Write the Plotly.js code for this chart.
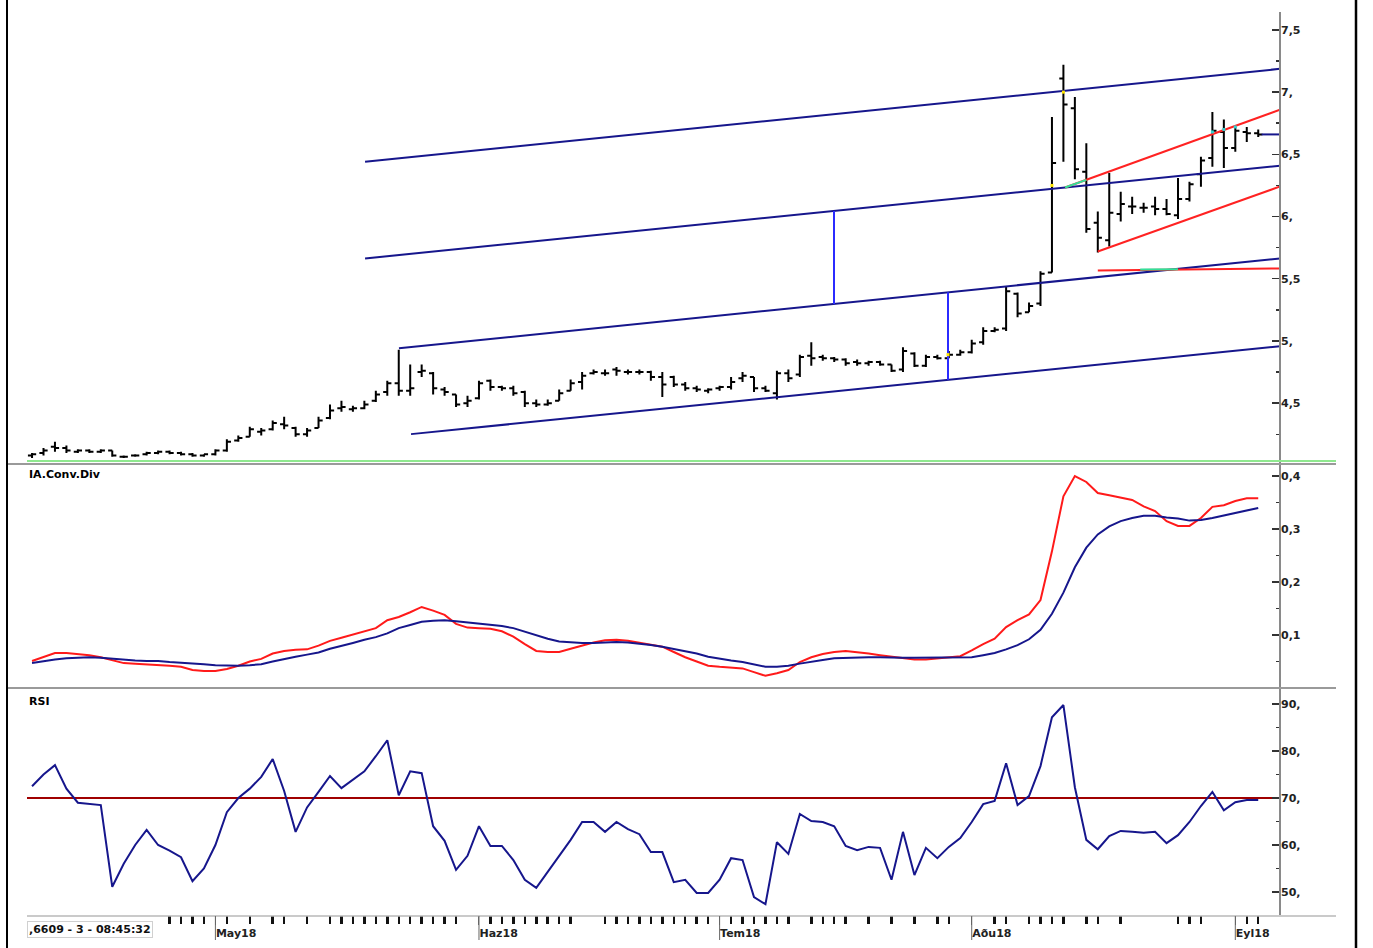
<!DOCTYPE html>
<html>
<head>
<meta charset="utf-8">
<script src="https://cdn.plot.ly/plotly-3.0.1.min.js"></script>
<style>
html,body{margin:0;padding:0;background:#fff;}
#chart{width:1373px;height:948px;}
</style>
</head>
<body>
<div id="chart"></div>
<script>
// ---- Price bars (one per trading day) ----
const open  = [4.08,4.10,4.15,4.14,4.11,4.12,4.11,4.12,4.07,4.08,4.09,4.10,4.11,4.10,4.09,4.08,4.09,
  4.12,4.20,4.23,4.27,4.29,4.33,4.30,4.25,4.30,4.38,4.46,4.45,4.46,4.52,4.59,4.66,4.60,4.75,4.74,4.61,4.57,4.50,
  4.54,4.68,4.63,4.62,4.59,4.50,4.49,4.52,4.60,4.67,4.74,4.74,4.77,4.75,4.75,4.75,4.71,4.71,4.65,4.62,4.60,
  4.62,4.63,4.70,4.71,4.62,4.58,4.74,4.73,4.88,4.87,4.86,4.85,4.83,4.82,4.83,4.81,4.77,4.90,4.80,4.87,4.86,4.89,
  4.91,4.99,5.08,5.10,5.38,5.23,5.30,5.55,7.11,6.87,6.36,5.95,5.81,6.02,6.08,6.07,6.08,6.06,6.01,6.14,6.34,6.47,6.68,
  6.55,6.68,6.67];
const high  = [4.10,4.14,4.19,4.16,4.13,4.13,4.13,4.12,4.08,4.09,4.11,4.12,4.12,4.11,4.10,4.09,4.13,
  4.21,4.24,4.31,4.30,4.36,4.39,4.31,4.30,4.39,4.49,4.52,4.48,4.52,4.60,4.68,4.93,4.81,4.81,4.75,4.63,4.57,4.56,
  4.68,4.69,4.64,4.64,4.60,4.53,4.53,4.61,4.69,4.75,4.77,4.77,4.79,4.77,4.77,4.76,4.75,4.72,4.67,4.64,4.62,
  4.64,4.71,4.75,4.71,4.64,4.76,4.77,4.89,4.99,4.89,4.87,4.86,4.85,4.84,4.84,4.81,4.95,4.91,4.89,4.89,4.92,4.93,
  5.01,5.11,5.11,5.44,5.39,5.31,5.56,6.80,7.22,6.96,6.59,6.04,6.35,6.20,6.16,6.11,6.16,6.14,6.31,6.28,6.48,6.84,6.78,
  6.72,6.72,6.70];
const low   = [4.06,4.08,4.11,4.10,4.10,4.10,4.10,4.07,4.06,4.07,4.08,4.09,4.09,4.08,4.07,4.07,4.08,
  4.11,4.19,4.23,4.24,4.28,4.29,4.23,4.23,4.30,4.37,4.43,4.43,4.45,4.51,4.56,4.56,4.56,4.71,4.57,4.56,4.47,4.47,
  4.53,4.60,4.60,4.56,4.47,4.47,4.48,4.52,4.60,4.61,4.73,4.72,4.72,4.73,4.73,4.68,4.55,4.63,4.60,4.59,4.58,
  4.60,4.61,4.67,4.59,4.59,4.53,4.67,4.71,4.80,4.84,4.83,4.80,4.80,4.80,4.80,4.75,4.75,4.79,4.79,4.85,4.86,4.88,
  4.90,4.97,5.07,5.08,5.19,5.23,5.28,5.55,6.44,6.30,5.87,5.71,5.76,5.96,6.02,6.03,6.01,6.01,5.98,6.12,6.24,6.40,6.39,
  6.52,6.60,6.64];
const close = [4.09,4.12,4.14,4.12,4.12,4.11,4.12,4.08,4.07,4.08,4.10,4.11,4.10,4.09,4.08,4.09,4.12,
  4.19,4.22,4.29,4.28,4.34,4.32,4.25,4.28,4.36,4.44,4.47,4.46,4.49,4.57,4.66,4.60,4.62,4.76,4.62,4.59,4.49,4.52,
  4.66,4.63,4.62,4.58,4.50,4.49,4.50,4.58,4.66,4.72,4.75,4.74,4.76,4.75,4.75,4.71,4.65,4.65,4.62,4.61,4.61,
  4.63,4.67,4.72,4.62,4.60,4.74,4.70,4.87,4.86,4.86,4.85,4.82,4.82,4.83,4.81,4.76,4.92,4.80,4.87,4.86,4.89,4.91,
  4.98,5.08,5.09,5.40,5.22,5.28,5.54,6.43,6.90,6.38,5.90,5.83,6.03,6.10,6.08,6.07,6.06,6.02,6.14,6.26,6.45,6.69,6.55,
  6.69,6.67,6.66];

// ---- MACD panel ----
const macd = [0.051,0.058,0.066,0.066,0.064,0.062,0.058,0.053,0.047,0.046,0.045,0.044,0.042,0.040,0.034,0.032,0.032,
  0.036,0.042,0.050,0.055,0.065,0.070,0.072,0.073,0.080,0.089,0.095,0.101,0.106,0.113,0.128,0.134,0.143,0.153,0.146,0.138,0.121,0.114,
  0.113,0.112,0.107,0.097,0.083,0.070,0.068,0.068,0.074,0.080,0.086,0.090,0.091,0.089,0.085,0.082,0.078,0.068,0.058,0.050,0.042,
  0.040,0.039,0.037,0.030,0.023,0.028,0.034,0.049,0.058,0.064,0.068,0.070,0.068,0.065,0.062,0.059,0.057,0.054,0.054,0.056,0.058,0.060,
  0.071,0.083,0.093,0.115,0.128,0.139,0.166,0.258,0.362,0.400,0.389,0.368,0.364,0.360,0.355,0.343,0.334,0.315,0.306,0.306,0.321,0.342,0.345,
  0.353,0.358,0.358];
const signal = [0.047,0.051,0.054,0.056,0.057,0.058,0.057,0.055,0.053,0.052,0.051,0.051,0.049,0.048,0.047,0.045,0.043,
  0.042,0.042,0.043,0.045,0.050,0.055,0.059,0.063,0.067,0.074,0.079,0.085,0.091,0.096,0.103,0.113,0.119,0.125,0.127,0.128,0.126,0.124,
  0.122,0.119,0.117,0.113,0.106,0.099,0.093,0.088,0.086,0.085,0.085,0.086,0.087,0.086,0.084,0.081,0.078,0.074,0.070,0.065,0.059,
  0.055,0.052,0.049,0.045,0.040,0.040,0.042,0.046,0.050,0.053,0.056,0.057,0.058,0.058,0.058,0.057,0.057,0.057,0.057,0.057,0.057,0.058,
  0.058,0.062,0.066,0.073,0.081,0.092,0.110,0.140,0.180,0.228,0.265,0.290,0.305,0.315,0.321,0.325,0.325,0.322,0.320,0.316,0.317,0.321,0.326,
  0.330,0.336,0.340];

// ---- RSI panel ----
const rsi = [72.5,75.0,77.0,72.0,69.0,68.7,68.5,51.1,56.0,60.0,63.2,60.0,58.8,57.4,52.3,55.0,60.0,
  67.0,70.0,72.0,74.5,78.3,71.5,62.8,68.0,71.3,74.7,72.1,74.0,75.7,78.9,82.3,70.6,75.7,75.3,64.0,60.9,54.7,57.7,
  64.0,59.8,59.8,56.8,52.6,50.9,54.3,57.9,61.1,64.9,64.9,62.8,64.9,63.4,62.3,58.5,58.5,52.1,52.6,49.8,49.8,
  52.6,57.2,56.8,48.9,47.4,60.6,58.1,66.6,65.1,64.9,64.0,59.8,58.9,59.6,59.4,52.6,62.8,53.6,59.4,57.2,59.6,61.5,
  64.9,68.7,69.4,77.4,68.5,70.4,76.8,87.2,89.8,72.3,61.1,59.1,61.9,63.0,62.8,62.6,62.8,60.4,62.1,64.9,68.3,71.3,67.4,
  69.1,69.6,69.6];
const rsiLevel = 70;

// ---- Drawn trend lines [x0, y0, x1, y1] in bar index / price ----
const channelLines = [[29.06,6.441,108.9,7.187],[29.06,5.663,108.9,6.409],[32.02,4.941,108.9,5.663],[33.07,4.251,108.9,4.957]];
const verticalLines = [[69.98,6.045,5.297],[79.93,5.391,4.687]];
const redLines = [[90.14,6.233,108.9,6.858],[93.0,5.719,108.9,6.241],[93.0,5.567,108.9,5.583]];
const greenSegs = [[90.14,6.233,92.0,6.295],[96.7,5.574,100.0,5.577]];
const markerDotsX = [79.93, 89.0, 90.0, 103.0, 104.0, 105.0];
const markerDotsY = [4.89, 6.25, 7.0, 6.68, 6.70, 6.72];
const markerDotsColor = ['#ffe600','#ffe600','#ffe600','#33d0d0','#33d0d0','#33d0d0'];

// ---- Axis labels ----
const monthTickIdx = [16,39,60,82,105];
const monthLabels = ['May18','Haz18','Tem18','Aðu18','Eyl18'];
const dayTickIdx = [12,13,14,15,17,19,21,22,24,26,27,28,29,30,31,32,33,34,35,36,37,40,41,42,43,44,45,46,47,
  50,51,52,53,54,55,56,57,58,59,61,62,63,64,65,66,68,69,70,71,73,75,77,79,80,84,85,87,88,89,90,92,93,95,100,101,102,106,107];
const priceTicks = [4.5,5,5.5,6,6.5,7,7.5];
const priceTickText = ['4,5','5,','5,5','6,','6,5','7,','7,5'];
const priceMinor = [4.25,4.75,5.25,5.75,6.25,6.75,7.25];
const macdTicks = [0.1,0.2,0.3,0.4];
const macdTickText = ['0,1','0,2','0,3','0,4'];
const macdMinor = [0.05,0.15,0.25,0.35];
const rsiTicks = [50,60,70,80,90];
const rsiTickText = ['50,','60,','70,','80,','90,'];
const rsiMinor = [55,65,75,85];
const infoText = ',6609 - 3 - 08:45:32';

const idx = close.map((_, i) => i);
const X0 = -0.44, X1 = 108.9;
const NAVY = '#16168c';
const traces = [];

traces.push({type:'ohlc', x:idx, open:open, high:high, low:low, close:close, xaxis:'x', yaxis:'y',
  increasing:{line:{color:'#000', width:2}}, decreasing:{line:{color:'#000', width:2}},
  tickwidth:0.36, hoverinfo:'skip', showlegend:false});

function seg(xs, ys, color, width, yaxis){
  traces.push({type:'scatter', mode:'lines', x:xs, y:ys, xaxis:'x', yaxis:yaxis||'y',
    line:{color:color, width:width}, hoverinfo:'skip', showlegend:false});
}
channelLines.forEach(l => seg([l[0], l[2]], [l[1], l[3]], NAVY, 2));
verticalLines.forEach(l => seg([l[0], l[0]], [l[1], l[2]], '#2b2bff', 2));
redLines.forEach(l => seg([l[0], l[2]], [l[1], l[3]], '#ff2222', 2));
greenSegs.forEach(l => seg([l[0], l[2]], [l[1], l[3]], '#33e09a', 2));
seg([107.3, X1], [close[close.length-1], close[close.length-1]], NAVY, 2);
traces.push({type:'scatter', mode:'markers', x:markerDotsX, y:markerDotsY, xaxis:'x', yaxis:'y',
  marker:{color:markerDotsColor, size:3, symbol:'square'}, hoverinfo:'skip', showlegend:false});

traces.push({type:'scatter', mode:'lines', x:idx, y:macd, xaxis:'x', yaxis:'y2',
  line:{color:'#ff1a1a', width:2}, hoverinfo:'skip', showlegend:false});
traces.push({type:'scatter', mode:'lines', x:idx, y:signal, xaxis:'x', yaxis:'y2',
  line:{color:NAVY, width:2}, hoverinfo:'skip', showlegend:false});
seg([X0, X1], [rsiLevel, rsiLevel], '#a00000', 2, 'y3');
traces.push({type:'scatter', mode:'lines', x:idx, y:rsi, xaxis:'x', yaxis:'y3',
  line:{color:NAVY, width:2}, hoverinfo:'skip', showlegend:false});

const tickFont = {family:'DejaVu Sans, Verdana, sans-serif', size:11, color:'#222', weight:'bold'};
function yax(domain, range, vals, text, minorVals){
  return {domain:domain, range:range, side:'right', anchor:'x', tickmode:'array', tickvals:vals, ticktext:text,
    ticks:'inside', ticklen:8, tickwidth:1.5, tickcolor:'#333', showgrid:false, zeroline:false, showline:false,
    tickfont:tickFont, fixedrange:true,
    minor:{tickmode:'array', tickvals:minorVals, ticks:'inside', ticklen:4, tickwidth:1.5, tickcolor:'#333', showgrid:false}};
}
const pxY = py => (915 - py) / 903;   // page pixel row -> paper fraction
const pxX = px => (px - 27) / 1253;   // page pixel column -> paper fraction

const shapes = [
  {type:'line', xref:'paper', yref:'paper', x0:1, x1:1, y0:0, y1:1, line:{color:'#8a8a8a', width:2}},
  {type:'line', xref:'paper', yref:'paper', x0:0, x1:pxX(1336), y0:pxY(461), y1:pxY(461), line:{color:'#8fe88f', width:2}},
  {type:'line', xref:'paper', yref:'paper', x0:pxX(7), x1:pxX(1336), y0:pxY(464), y1:pxY(464), line:{color:'#9a9a9a', width:2}},
  {type:'line', xref:'paper', yref:'paper', x0:pxX(7), x1:pxX(1336), y0:pxY(688), y1:pxY(688), line:{color:'#9a9a9a', width:2}},
  {type:'line', xref:'paper', yref:'paper', x0:0, x1:pxX(1336), y0:pxY(916), y1:pxY(916), line:{color:'#b8b8b8', width:1.5}},
  {type:'line', xref:'paper', yref:'paper', x0:pxX(7), x1:pxX(7), y0:pxY(0), y1:pxY(948), line:{color:'#000', width:2}},
  {type:'line', xref:'paper', yref:'paper', x0:pxX(1356), x1:pxX(1356), y0:pxY(0), y1:pxY(948), line:{color:'#000', width:2.5}}
];
monthTickIdx.forEach(m => shapes.push({type:'line', xref:'x', yref:'paper', x0:m, x1:m, y0:pxY(916), y1:pxY(940), line:{color:'#666', width:1}}));

const layout = {
  width:1373, height:948, margin:{l:27, r:93, t:12, b:33}, paper_bgcolor:'#fff', plot_bgcolor:'#fff',
  showlegend:false, dragmode:false,
  xaxis:{domain:[0,1], range:[X0, X1], anchor:'y3', tickmode:'array', tickvals:monthTickIdx, ticktext:monthLabels,
    ticks:'outside', ticklen:9, tickwidth:1, tickcolor:'#666', ticklabelposition:'outside right', ticklabelstandoff:8,
    tickfont:{family:'DejaVu Sans, Verdana, sans-serif', size:11, color:'#222', weight:'bold'},
    showgrid:false, zeroline:false, showline:false, fixedrange:true, rangeslider:{visible:false},
    minor:{tickmode:'array', tickvals:dayTickIdx, ticks:'outside', ticklen:8, tickwidth:2.5, tickcolor:'#111', showgrid:false}},
  yaxis: yax([pxY(461), 1], [4.035, 7.644], priceTicks, priceTickText, priceMinor),
  yaxis2: yax([pxY(688), pxY(465)], [0, 0.421], macdTicks, macdTickText, macdMinor),
  yaxis3: yax([0, pxY(690)], [45.1, 93], rsiTicks, rsiTickText, rsiMinor),
  shapes: shapes,
  annotations:[
    {xref:'paper', yref:'paper', x:0, y:pxY(466), xanchor:'left', yanchor:'top', showarrow:false, text:'IA.Conv.Div',
      font:{family:'DejaVu Sans, Verdana, sans-serif', size:11, color:'#000', weight:'bold'}},
    {xref:'paper', yref:'paper', x:0, y:pxY(693), xanchor:'left', yanchor:'top', showarrow:false, text:'RSI',
      font:{family:'DejaVu Sans, Verdana, sans-serif', size:11, color:'#000', weight:'bold'}},
    {xref:'paper', yref:'paper', x:0, y:pxY(921), xanchor:'left', yanchor:'top', showarrow:false, text:infoText,
      bgcolor:'#fff', bordercolor:'#d0d0d0', borderwidth:1, borderpad:1,
      font:{family:'DejaVu Sans, Verdana, sans-serif', size:11, color:'#111', weight:'bold'}}
  ]
};

Plotly.newPlot('chart', traces, layout, {displayModeBar:false, staticPlot:true});
</script>
</body>
</html>
